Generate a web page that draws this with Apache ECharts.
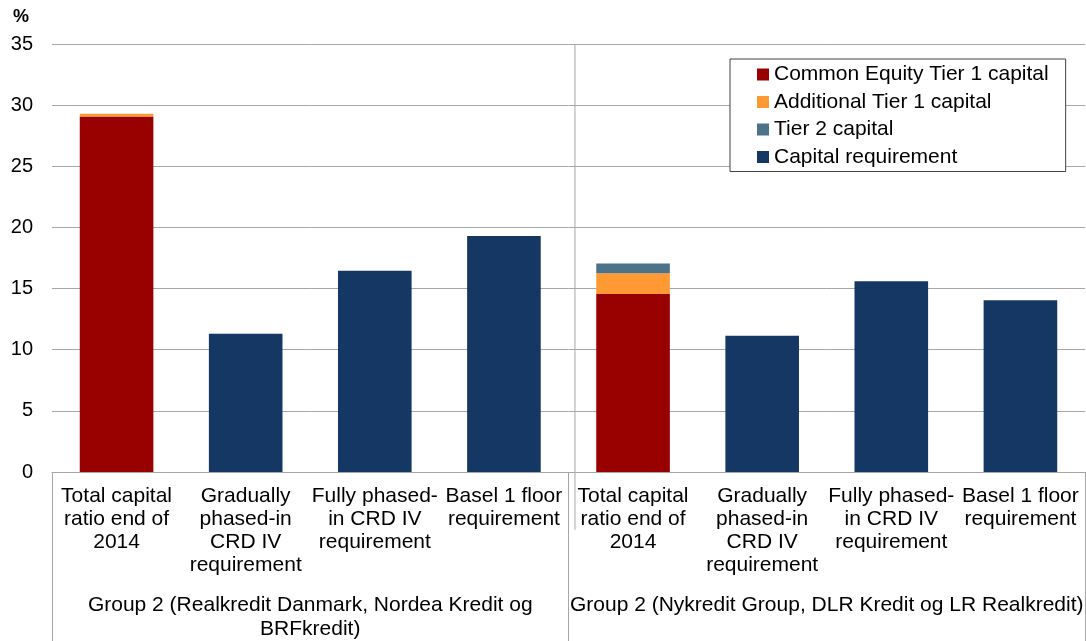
<!DOCTYPE html>
<html>
<head>
<meta charset="utf-8">
<script src="https://cdn.jsdelivr.net/npm/echarts@6/dist/echarts.min.js"></script>
<style>
html,body{margin:0;padding:0;background:#fff;}
#chart{width:1086px;height:641px;}
</style>
</head>
<body>
<div id="chart"></div>
<script>
const categories = [
  'Total capital\nratio end of\n2014',
  'Gradually\nphased-in\nCRD IV\nrequirement',
  'Fully phased-\nin CRD IV\nrequirement',
  'Basel 1 floor\nrequirement',
  'Total capital\nratio end of\n2014',
  'Gradually\nphased-in\nCRD IV\nrequirement',
  'Fully phased-\nin CRD IV\nrequirement',
  'Basel 1 floor\nrequirement'
];
const groups = [
  'Group 2 (Realkredit Danmark, Nordea Kredit og\nBRFkredit)',
  'Group 2 (Nykredit Group, DLR Kredit og LR Realkredit)'
];
const seriesNames = ['Common Equity Tier 1 capital', 'Additional Tier 1 capital', 'Tier 2 capital', 'Capital requirement'];
const cet1 = [29.07, null, null, null, 14.55, null, null, null];
const at1 = [0.22, null, null, null, 1.7, null, null, null];
const tier2 = [null, null, null, null, 0.8, null, null, null];
const requirement = [null, 11.3, 16.45, 19.3, null, 11.15, 15.6, 14.05];
const yTicks = { min: 0, max: 35, interval: 5 };
const unitLabel = '%';
const separatorLine = [[3.55, 35], [3.55, -4.72]];   // divider between the two groups

const colors = ['#990000', '#FF9933', '#4D7389', '#143764'];
const font = "'Liberation Sans', Arial, sans-serif";
const gridColor = '#A6A6A6';

const chart = echarts.init(document.getElementById('chart'), null, { renderer: 'canvas' });

const barSeries = [cet1, at1, tier2, requirement].map((d, i) => ({
  name: seriesNames[i],
  type: 'bar',
  stack: 'total',
  xAxisIndex: 0,
  yAxisIndex: 0,
  barWidth: '57%',
  itemStyle: { color: colors[i] },
  data: d
}));

const option = {
  animation: false,
  textStyle: { fontFamily: font },
  title: {
    text: unitLabel,
    left: 13,
    top: 8,
    padding: 0,
    textStyle: { fontSize: 18, fontWeight: 'bold', color: '#000', fontFamily: font }
  },
  grid: { left: 52, right: -1, top: 44, bottom: 167, containLabel: false },
  legend: {
    orient: 'vertical',
    left: 730,
    top: 59,
    data: seriesNames,
    icon: 'rect',
    itemWidth: 12,
    itemHeight: 12,
    itemGap: 6.5,
    padding: [5, 17, 4, 27],
    backgroundColor: '#fff',
    borderColor: '#404040',
    borderWidth: 1,
    textStyle: { fontSize: 21, color: '#000', fontFamily: font }
  },
  xAxis: [
    {
      type: 'category',
      data: categories,
      position: 'bottom',
      axisLine: { show: true, lineStyle: { color: gridColor, width: 1 } },
      axisTick: { show: false },
      axisLabel: { interval: 0, fontSize: 21, lineHeight: 23, margin: 13, color: '#000', fontFamily: font }
    },
    {
      type: 'category',
      data: groups,
      position: 'bottom',
      axisLine: { show: false },
      axisTick: { show: true, interval: 0, length: 170, lineStyle: { color: gridColor, width: 1 } },
      axisLabel: { interval: 0, fontSize: 21, lineHeight: 24, margin: 121, color: '#000', fontFamily: font }
    },
    {
      type: 'value',
      min: -0.5,
      max: 7.5,
      position: 'top',
      show: false
    }
  ],
  yAxis: {
    type: 'value',
    min: yTicks.min,
    max: yTicks.max,
    interval: yTicks.interval,
    axisLine: { show: false },
    axisTick: { show: false },
    splitLine: { lineStyle: { color: gridColor, width: 1 } },
    axisLabel: { fontSize: 20, color: '#000', margin: 19, fontFamily: font }
  },
  series: barSeries.concat([{
    name: 'separator',
    type: 'line',
    xAxisIndex: 2,
    yAxisIndex: 0,
    data: separatorLine,
    clip: false,
    silent: true,
    symbol: 'none',
    lineStyle: { color: gridColor, width: 1 },
    z: 1
  }])
};

chart.setOption(option);
</script>
</body>
</html>
